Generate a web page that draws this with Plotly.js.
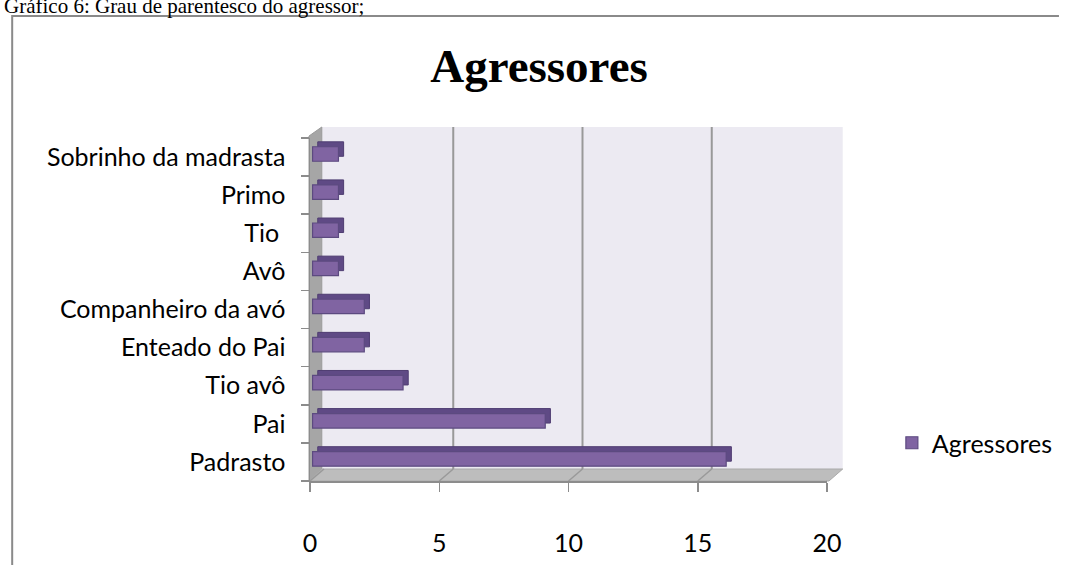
<!DOCTYPE html>
<html><head><meta charset="utf-8">
<script src="https://cdn.plot.ly/plotly-3.0.1.min.js"></script>
<style>html,body{margin:0;padding:0;background:#fff;}#chart{width:1070px;height:565px;}</style>
</head><body><div id="chart"></div>
<script>
const categories = ["Padrasto","Pai","Tio avô","Enteado do Pai","Companheiro da avó","Avô","Tio ","Primo","Sobrinho da madrasta"];
const values = [16, 9, 3.5, 2, 2, 1, 1, 1, 1];
const xTicks = [0, 5, 10, 15, 20];
const seriesName = "Agressores";
const chartTitle = "Agressores";
const pageCaption = "Gráfico 6: Grau de parentesco do agressor;";

const W = 1070, H = 565, L = 310, R = 234, T = 138, B = 84;
const PW = W - L - R, PH = H - T - B;
const px = x => (x - L) / PW;
const py = y => (H - B - y) / PH;

const shapes = [];
shapes.push({type:'path', xref:'paper', yref:'paper', layer:'below',
  path:`M ${px(7)} ${py(568)} L ${px(7)} ${py(16)} L ${px(1072)} ${py(16)}`,
  line:{color:'#8a8a8a', width:2}});
shapes.push({type:'rect', xref:'paper', yref:'paper', layer:'below',
  x0:px(322), x1:px(852), y0:py(469), y1:py(127),
  fillcolor:'#ECEAF2', line:{width:0}});
shapes.push({type:'path', xref:'paper', yref:'paper', layer:'below',
  path:`M ${px(309)} ${py(481)} L ${px(309)} ${py(136)} L ${px(322)} ${py(127)} L ${px(322)} ${py(469)} Z`,
  fillcolor:'#A6A6A6', line:{color:'#9a9a9a', width:1}});
shapes.push({type:'path', xref:'paper', yref:'paper', layer:'below',
  path:`M ${px(309)} ${py(481)} L ${px(838)} ${py(481)} L ${px(852)} ${py(469)} L ${px(322)} ${py(469)} Z`,
  fillcolor:'#BDBDBD', line:{color:'#aaaaaa', width:1}});
xTicks.forEach(v => {
  if (v > 0) {
    shapes.push({type:'line', xref:'x', yref:'paper', layer:'below', xsizemode:'pixel', xanchor:v,
      x0:14, x1:14, y0:py(469), y1:py(127), line:{color:'#999999', width:2}});
  }
  shapes.push({type:'line', xref:'x', yref:'paper', layer:'below', xsizemode:'pixel', xanchor:v,
    x0:0, x1:14, y0:py(481), y1:py(469), line:{color:'#999999', width:1.5}});
});

const traces = [
  {type:'bar', orientation:'h', y:categories, x:values, base:0.3, width:0.38, offset:0.02,
   marker:{color:'#5F4A85', line:{color:'#4F3D72', width:1}}, showlegend:false, hoverinfo:'skip'},
  {type:'bar', orientation:'h', y:categories, x:values, base:0.1, width:0.38, offset:-0.11,
   name:seriesName, marker:{color:'#8064A2', line:{color:'#5C4A80', width:1.2}}}
];

const layout = {
  width:W, height:H, margin:{l:L, r:R, t:T, b:B, pad:0},
  paper_bgcolor:'rgba(0,0,0,0)', plot_bgcolor:'rgba(0,0,0,0)',
  barmode:'overlay',
  font:{family:'Lato, "Open Sans", sans-serif', size:25, color:'#000'},
  title:{text:'<b>'+chartTitle+'</b>', font:{family:'"Liberation Serif", "Times New Roman", serif', size:47, color:'#000'},
    x:px(543), xanchor:'center', xref:'paper', y:1-66/H, yanchor:'middle', yref:'container'},
  xaxis:{range:[0,20], tickvals:xTicks, ticktext:xTicks.map(String), showgrid:false, zeroline:false,
    showline:true, linecolor:'#8c8c8c', linewidth:1.5, ticks:'outside', ticklen:9, tickcolor:'#8c8c8c', tickwidth:1.5,
    ticklabelstandoff:30, tickfont:{size:25}, fixedrange:true},
  yaxis:{type:'category', categoryorder:'array', categoryarray:categories, range:[-0.5, 8.5],
    showgrid:false, zeroline:false, showline:true, linecolor:'#8c8c8c', linewidth:1.5,
    ticks:'outside', tickson:'boundaries', ticklen:8, tickcolor:'#8c8c8c', tickwidth:1.5,
    ticklabelstandoff:18, tickfont:{size:25}, fixedrange:true},
  legend:{x:px(902), xanchor:'left', y:py(443), yanchor:'middle', font:{size:25}, bgcolor:'rgba(0,0,0,0)', itemwidth:30},
  shapes:shapes,
  annotations:[{text:pageCaption, xref:'paper', yref:'paper', x:px(-3), xanchor:'left', y:py(6), yanchor:'middle',
    showarrow:false, font:{family:'"Liberation Serif", "Times New Roman", serif', size:21, color:'#000'}}]
};
Plotly.newPlot('chart', traces, layout, {displayModeBar:false, staticPlot:true});
</script></body></html>
